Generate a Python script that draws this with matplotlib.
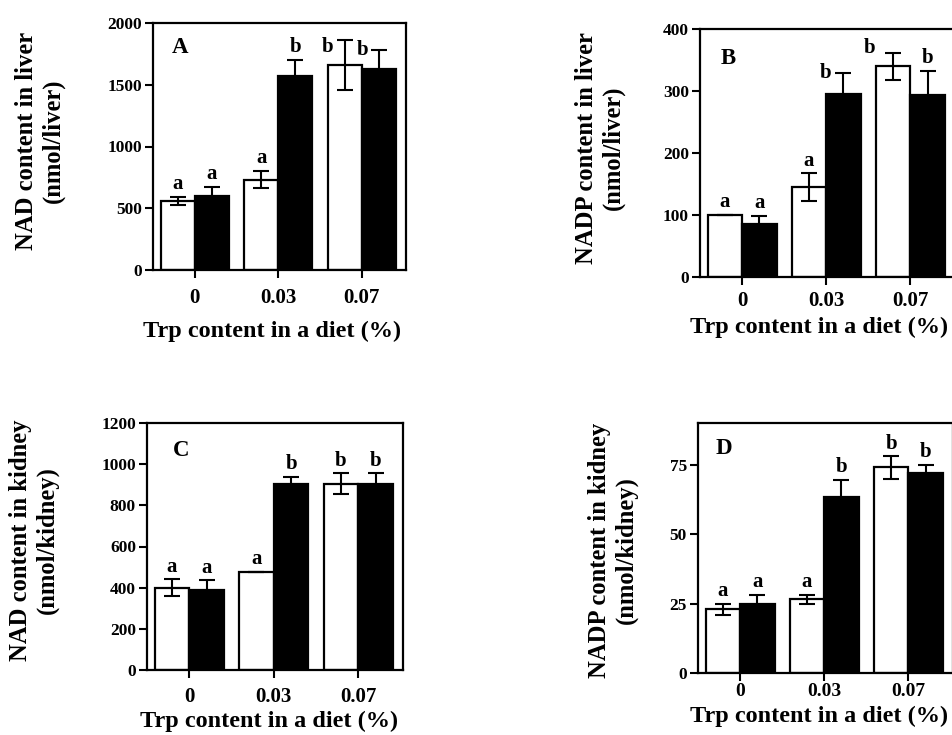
import matplotlib
matplotlib.use('Agg')
import matplotlib.pyplot as plt
import numpy as np

# Data
groups = ['0', '0.03', '0.07']

nad_liver_white = [560, 730, 1660]
nad_liver_white_err = [30, 70, 200]
nad_liver_black = [600, 1570, 1630]
nad_liver_black_err = [70, 130, 150]

nadp_liver_white = [100, 145, 340]
nadp_liver_white_err = [0, 22, 22]
nadp_liver_black = [85, 295, 293]
nadp_liver_black_err = [14, 34, 40]

nad_kidney_white = [400, 475, 905]
nad_kidney_white_err = [40, 0, 50]
nad_kidney_black = [390, 905, 905]
nad_kidney_black_err = [45, 35, 50]

nadp_kidney_white = [23, 26.5, 74]
nadp_kidney_white_err = [2, 1.5, 4]
nadp_kidney_black = [25, 63.5, 72]
nadp_kidney_black_err = [3, 6, 3]

white_letters = ['a', 'a', 'b']
black_letters = ['a', 'b', 'b']

plt.rcParams['font.family'] = ['Liberation Serif', 'DejaVu Serif']
plt.rcParams['font.weight'] = 'bold'

fig = plt.figure(figsize=(9.53, 7.35), dpi=100)

W, H = 953, 735


def px_axes(left, top, right, bottom):
    return fig.add_axes([left / W, 1 - bottom / H, (right - left) / W, (bottom - top) / H])


panels = [
    dict(box=(153, 23, 406, 270), letter='A', ylim=(0, 2000), ticks=[0, 500, 1000, 1500, 2000],
         white=nad_liver_white, werr=nad_liver_white_err,
         black=nad_liver_black, berr=nad_liver_black_err,
         ylabel='NAD content in liver\n(nmol/liver)', ylab_xy=(40, 141), xlab_xy=(272, 331),
         shift={('w', 2): (-12, -5), ('b', 2): (-12, 0)}, let_xy=(0.075, 0.9), xpad=7, xsize=15),
    dict(box=(700, 29, 955, 277), letter='B', ylim=(0, 400), ticks=[0, 100, 200, 300, 400],
         white=nadp_liver_white, werr=nadp_liver_white_err,
         black=nadp_liver_black, berr=nadp_liver_black_err,
         ylabel='NADP content in liver\n(nmol/liver)', ylab_xy=(600, 148), xlab_xy=(819, 327),
         shift={('b', 1): (-13, 0), ('w', 2): (-17, 3)}, let_xy=(0.08, 0.883), xpad=4, xsize=15),
    dict(box=(147, 423, 403, 670), letter='C', ylim=(0, 1200), ticks=[0, 200, 400, 600, 800, 1000, 1200],
         white=nad_kidney_white, werr=nad_kidney_white_err,
         black=nad_kidney_black, berr=nad_kidney_black_err,
         ylabel='NAD content in kidney\n(nmol/kidney)', ylab_xy=(34, 540), xlab_xy=(269, 721),
         shift={}, let_xy=(0.1, 0.89), xpad=6, xsize=15),
    dict(box=(698, 423, 953, 673), letter='D', ylim=(0, 90), ticks=[0, 25, 50, 75],
         white=nadp_kidney_white, werr=nadp_kidney_white_err,
         black=nadp_kidney_black, berr=nadp_kidney_black_err,
         ylabel='NADP content in kidney\n(nmol/kidney)', ylab_xy=(613, 550), xlab_xy=(819, 716),
         shift={}, let_xy=(0.067, 0.9), xpad=1, xsize=14),
]

x = np.arange(len(groups))
bw = 0.41

for p in panels:
    ax = px_axes(*p['box'])
    xw = x - bw / 2
    xb = x + bw / 2
    ax.bar(xw, p['white'], bw, color='white', edgecolor='black', linewidth=1.6, zorder=2)
    ax.bar(xb, p['black'], bw, color='black', edgecolor='black', linewidth=1.6, zorder=2)
    ax.errorbar(xw, p['white'], yerr=p['werr'], fmt='none', ecolor='black',
                elinewidth=1.5, capsize=6, capthick=1.5, zorder=3)
    ax.errorbar(xb, p['black'], yerr=p['berr'], fmt='none', ecolor='black',
                elinewidth=1.5, capsize=6, capthick=1.5, zorder=3)

    for key, xs, vals, errs, labs in [('w', xw, p['white'], p['werr'], white_letters),
                                       ('b', xb, p['black'], p['berr'], black_letters)]:
        for i in range(len(groups)):
            top = vals[i] + errs[i]
            if (key, i) in p['shift']:
                dx, dy = p['shift'][(key, i)]
                ax.annotate(labs[i], (xs[i], top), xytext=(dx, dy), textcoords='offset points',
                            ha='center', va='center', fontsize=15, fontweight='bold',
                            annotation_clip=False)
            else:
                ax.annotate(labs[i], (xs[i], top), xytext=(0, 2), textcoords='offset points',
                            ha='center', va='bottom', fontsize=15, fontweight='bold',
                            annotation_clip=False)

    ax.text(p['let_xy'][0], p['let_xy'][1], p['letter'], transform=ax.transAxes,
            fontsize=16.5, fontweight='bold', ha='left', va='center')

    ax.set_xlim(-0.5, 2.53)
    ax.set_ylim(*p['ylim'])
    ax.set_yticks(p['ticks'])
    ax.set_xticks(x)
    ax.set_xticklabels(groups)
    ax.tick_params(axis='both', direction='out', length=6, width=1.5, pad=4)
    ax.tick_params(axis='y', labelsize=12.5, pad=2)
    ax.tick_params(axis='x', labelsize=p['xsize'], pad=p['xpad'])
    for lab in ax.get_xticklabels() + ax.get_yticklabels():
        lab.set_fontweight('bold')
    for s in ax.spines.values():
        s.set_linewidth(1.6)

    fig.text(p['ylab_xy'][0] / W, 1 - p['ylab_xy'][1] / H, p['ylabel'], rotation=90,
             ha='center', va='center', multialignment='center', fontsize=17.7,
             fontweight='bold', linespacing=1.2)
    fig.text(p['xlab_xy'][0] / W, 1 - p['xlab_xy'][1] / H, 'Trp content in a diet (%)',
             ha='center', va='center', fontsize=17.5, fontweight='bold')

fig.savefig('out.png', dpi=100)
